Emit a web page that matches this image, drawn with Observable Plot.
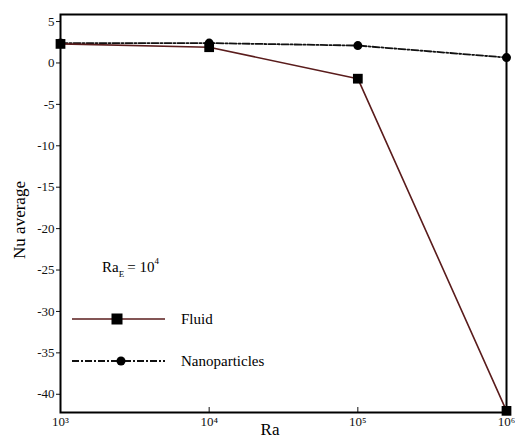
<!DOCTYPE html>
<html><head><meta charset="utf-8">
<script src="https://cdn.jsdelivr.net/npm/d3@7"></script>
<script src="https://cdn.jsdelivr.net/npm/@observablehq/plot@0.6"></script>
<style>
body{margin:0;background:#fff;}
#wrap{position:relative;width:515px;height:438px;}
#wrap svg, #wrap text{font-family:"Liberation Serif","Times New Roman",Times,"DejaVu Serif",serif !important;}
#legend{position:absolute;left:0;top:0;}
</style>
</head><body>
<div id="wrap"></div>
<script>
const raValues = [1e3, 1e4, 1e5, 1e6];
const fluidNu = [2.3, 1.9, -1.9, -42.0];
const nanoNu = [2.4, 2.4, 2.1, 0.65];
const yTicks = [5, 0, -5, -10, -15, -20, -25, -30, -35, -40];
const xTicks = [1e3, 1e4, 1e5, 1e6];
const seriesNames = ["Fluid", "Nanoparticles"];
const axisLabels = {x: "Ra", y: "Nu average"};

const sup = {"0":"⁰","1":"¹","2":"²","3":"³","4":"⁴","5":"⁵","6":"⁶","7":"⁷","8":"⁸","9":"⁹"};
const pow = v => "10" + String(Math.round(Math.log10(v))).split("").map(c => sup[c]).join("");

const fluid = raValues.map((x, i) => ({x, y: fluidNu[i]}));
const nano = raValues.map((x, i) => ({x, y: nanoNu[i]}));

const chart = Plot.plot({
  width: 515, height: 438,
  marginLeft: 60, marginRight: 9, marginTop: 14, marginBottom: 26,
  style: {fontSize: "13px", color: "#111", background: "#fff"},
  x: {type: "log", domain: [1e3, 1e6]},
  y: {domain: [-42.2, 5.85]},
  marks: [
    Plot.axisY({ticks: yTicks, tickSize: 4, tickPadding: 2, tickFormat: d => String(d), label: null, fontSize: 13}),
    Plot.axisX({ticks: xTicks, tickSize: -5, tickPadding: 9, tickFormat: pow, label: null, fontSize: 13}),
    Plot.line(nano, {x: "x", y: "y", stroke: "#111", strokeWidth: 1.8, strokeDasharray: "7,2,2,2"}),
    Plot.line(fluid, {x: "x", y: "y", stroke: "#5a1c1c", strokeWidth: 1.6}),
    Plot.dot(nano, {x: "x", y: "y", symbol: "circle", r: 4.5, fill: "#000"}),
    Plot.dot(fluid, {x: "x", y: "y", symbol: "square", r: 5.5, fill: "#000"}),
    Plot.frame({stroke: "#000", strokeWidth: 2})
  ]
});
const wrap = document.getElementById("wrap");
wrap.appendChild(chart);

const ns = "http://www.w3.org/2000/svg";
const ov = document.createElementNS(ns, "svg");
ov.setAttribute("width", 515); ov.setAttribute("height", 438); ov.setAttribute("id", "legend");
ov.innerHTML = `
  <text x="270" y="435" font-size="17" text-anchor="middle">${axisLabels.x}</text>
  <text transform="translate(25,220) rotate(-90)" font-size="17" text-anchor="middle">${axisLabels.y}</text>
  <text x="102" y="272" font-size="15">Ra<tspan font-size="9" dy="5">E</tspan><tspan dy="-5" dx="3">= 10</tspan><tspan font-size="9" dy="-8">4</tspan></text>
  <line x1="72" x2="165" y1="319" y2="319" stroke="#5a1c1c" stroke-width="1.6"/>
  <rect x="111.5" y="313.5" width="11" height="11" fill="#000"/>
  <text x="181" y="324" font-size="15">${seriesNames[0]}</text>
  <line x1="72" x2="165" y1="361" y2="361" stroke="#111" stroke-width="1.8" stroke-dasharray="7,2,2,2"/>
  <circle cx="121" cy="361" r="4.5" fill="#000"/>
  <text x="181" y="366" font-size="15">${seriesNames[1]}</text>`;
wrap.appendChild(ov);
</script>
</body></html>
